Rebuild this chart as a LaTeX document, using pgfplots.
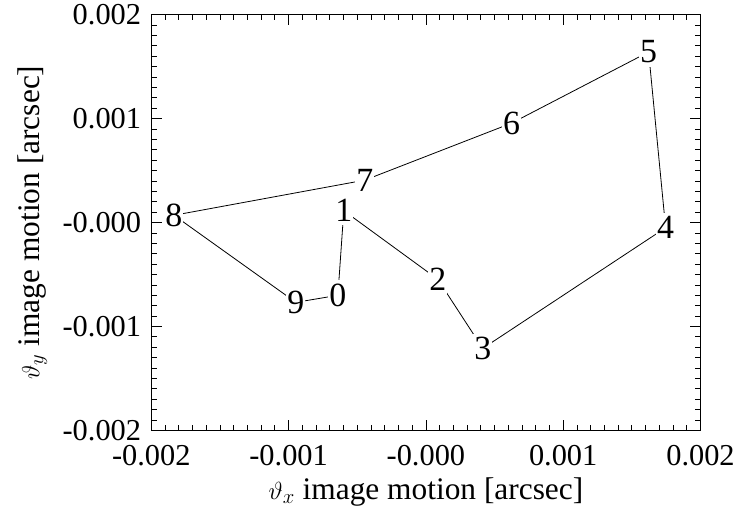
\documentclass[border=0pt]{standalone}
\usepackage{pgfplots}
\pgfplotsset{compat=1.18}
\usepackage{fontspec}
\setmainfont{Liberation Serif}

% Image-motion track, frames 0..9 in order
\pgfplotstableread{
x          y          lab
-0.000641  -0.000700  0
-0.000598   0.000114  1
 0.0000866 -0.000546  2
 0.000414  -0.001211  3
 0.001746  -0.000050  4
 0.001622   0.001641  5
 0.000625   0.000957  6
-0.000445   0.000408  7
-0.001835   0.000070  8
-0.000947  -0.000768  9
}\track

\begin{document}
\begin{tikzpicture}
\begin{axis}[
  scale only axis,
  width=549.2bp, height=415.7bp,
  xmin=-0.002, xmax=0.002, ymin=-0.002, ymax=0.002,
  scaled ticks=false,
  xtick={-0.002,-0.001,0,0.001,0.002},
  xticklabels={-0.002,-0.001,-0.000,0.001,0.002},
  ytick={-0.002,-0.001,0,0.001,0.002},
  yticklabels={-0.002,-0.001,-0.000,0.001,0.002},
  minor tick num=9,
  major tick length=10.7bp, minor tick length=5.3bp,
  tick style={black, line width=0.8bp},
  axis line style={line width=1bp},
  ticklabel style={font=\fontsize{30.5}{32}\selectfont},
  xticklabel style={inner sep=0pt, yshift=-15bp},
  yticklabel style={inner sep=0pt, xshift=-10bp},
  xlabel={$\vartheta_x$ image motion [arcsec]},
  ylabel={$\vartheta_y$ image motion [arcsec]},
  label style={font=\fontsize{31.5}{33}\selectfont},
  xlabel style={at={(axis description cs:0.5,0)}, anchor=base, yshift=-69bp},
  ylabel style={at={(axis description cs:-0.2039,0.5)}, anchor=base},
]
% connecting line, closing back on frame 0
\addplot[black, line width=0.8bp, mark=none] table[x=x, y=y] {\track} -- cycle;
% frame numbers over the line
\addplot[draw=none, mark=none, point meta=explicit symbolic,
  nodes near coords,
  nodes near coords style={anchor=center, fill=white, text=black,
    inner xsep=1bp, inner ysep=3.5bp,
    font=\fontsize{34}{34}\selectfont}]
  table[x=x, y=y, meta=lab] {\track};
\end{axis}
\pgfresetboundingbox
\path[use as bounding box]
  ([shift={(-151.3bp,-79.6bp)}]current axis.south west)
  rectangle ([shift={(43.5bp,14.7bp)}]current axis.north east);
\end{tikzpicture}
\end{document}
